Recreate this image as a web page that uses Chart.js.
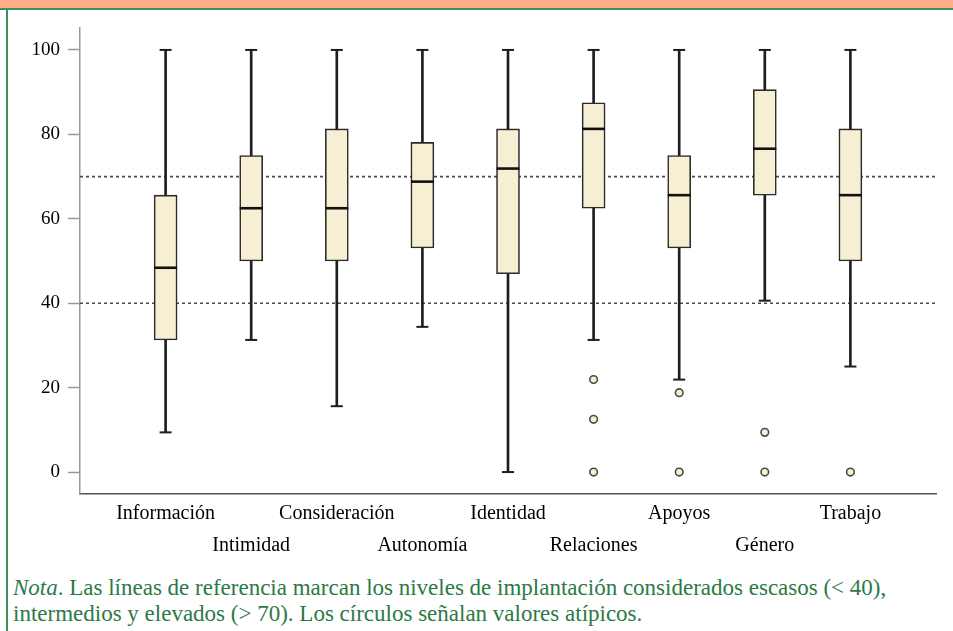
<!DOCTYPE html>
<html>
<head>
<meta charset="utf-8">
<script src="https://cdn.jsdelivr.net/npm/chart.js@4/dist/chart.umd.min.js"></script>
<style>
  html, body { margin:0; padding:0; background:#fff; width:953px; height:631px; overflow:hidden; }
  #band { position:absolute; left:0; top:0; width:953px; height:8px; background:#fdae86; border-bottom:2px solid #3f8f5c; }
  #lborder { position:absolute; left:6px; top:8px; width:2px; height:623px; background:#3f8f5c; }
  #wrap { position:absolute; left:0; top:0; width:953px; height:560px; }
  #note { position:absolute; left:13px; top:575px; font-family:"Liberation Serif", serif; font-size:23px; line-height:26px; color:#2b7a45; white-space:nowrap; }
</style>
</head>
<body>
<div id="band"></div>
<div id="lborder"></div>
<div id="wrap"><canvas id="c" width="953" height="560"></canvas></div>
<div id="note"><i>Nota</i>. Las líneas de referencia marcan los niveles de implantación considerados escasos (&lt; 40),<br>intermedios y elevados (&gt; 70). Los círculos señalan valores atípicos.</div>
<script>
const categories = ['Información','Intimidad','Consideración','Autonomía','Identidad','Relaciones','Apoyos','Género','Trabajo'];
const whiskerMin = [9.4, 31.3, 15.6, 34.4, 0, 31.3, 21.9, 40.6, 25];
const q1         = [31.3, 50, 50, 53.1, 47, 62.5, 53.1, 65.6, 50];
const median     = [48.4, 62.5, 62.5, 68.8, 71.9, 81.3, 65.6, 76.6, 65.6];
const q3         = [65.6, 75, 81.3, 78.1, 81.3, 87.5, 75, 90.6, 81.3];
const whiskerMax = [100, 100, 100, 100, 100, 100, 100, 100, 100];
const outlierCategory = ['Relaciones','Relaciones','Relaciones','Apoyos','Apoyos','Género','Género','Trabajo'];
const outlierValue    = [21.9, 12.5, 0, 18.8, 0, 9.4, 0, 0];
const referenceLevels = [40, 70];
const yTicks = [0, 20, 40, 60, 80, 100];

// category axis with an empty slot on each side
const labels = [''].concat(categories.map((c, i) => i % 2 === 0 ? [c, ''] : ['', c])).concat(['']);
const pad = arr => [null].concat(arr).concat([null]);
const whiskers = pad(categories.map((c, i) => [whiskerMin[i], whiskerMax[i]]));
const boxes = pad(categories.map((c, i) => [q1[i], q3[i]]));
const outliers = outlierCategory.map((c, i) => ({ x: labels[categories.indexOf(c) + 1], y: outlierValue[i] }));

const refSets = referenceLevels.map(v => ({
  type: 'line', data: labels.map(() => v), borderColor: '#4a4a4a', borderWidth: 1.6,
  borderDash: [3, 3], pointRadius: 0, order: 10
}));

new Chart(document.getElementById('c'), {
  type: 'bar',
  data: {
    labels: labels,
    datasets: [
      ...refSets,
      { type: 'bar', data: whiskers, backgroundColor: '#1e1e1e', barThickness: 2, grouped: false, order: 6 },
      { type: 'bar', data: boxes, backgroundColor: '#f7efd4', borderColor: '#2a2a2a', borderWidth: 1.6,
        borderSkipped: false, barThickness: 23, grouped: false, order: 5 },
      { type: 'line', data: pad(median), showLine: false, pointStyle: 'line', pointRadius: 11.5,
        pointBorderWidth: 2.6, pointBorderColor: '#111', order: 2 },
      { type: 'line', data: pad(whiskerMax), showLine: false, pointStyle: 'line', pointRadius: 6,
        pointBorderWidth: 2, pointBorderColor: '#1e1e1e', order: 2 },
      { type: 'line', data: pad(whiskerMin), showLine: false, pointStyle: 'line', pointRadius: 6,
        pointBorderWidth: 2, pointBorderColor: '#1e1e1e', order: 2 },
      { type: 'scatter', data: outliers, pointStyle: 'circle', pointRadius: 3.8,
        pointBackgroundColor: '#f7efd4', pointBorderColor: '#4a4a4a', pointBorderWidth: 1.6, order: 1 }
    ]
  },
  options: {
    responsive: false,
    animation: false,
    layout: { padding: { left: 0, top: 28, right: 17, bottom: 0 } },
    plugins: { legend: { display: false }, tooltip: { enabled: false } },
    scales: {
      x: {
        type: 'category',
        offset: false,
        grid: { display: true, drawOnChartArea: false, drawTicks: false },
        border: { display: true, color: '#555', width: 1.6 },
        ticks: { autoSkip: false, maxRotation: 0, minRotation: 0, padding: 4, color: '#000',
                 font: { family: 'Liberation Serif', size: 20, lineHeight: '32px' } },
        afterFit: s => { s.height = 66; }
      },
      y: {
        min: -5.2, max: 105.2,
        afterBuildTicks: s => { s.ticks = yTicks.map(v => ({ value: v })); },
        grid: { display: true, drawOnChartArea: false, drawTicks: true, tickLength: 12, tickColor: '#999', tickWidth: 1.5 },
        border: { display: true, color: '#999', width: 1.5 },
        ticks: { padding: 8, color: '#000', font: { family: 'Liberation Serif', size: 19 } },
        afterFit: s => { s.width = 80; }
      }
    }
  }
});
</script>
</body>
</html>
